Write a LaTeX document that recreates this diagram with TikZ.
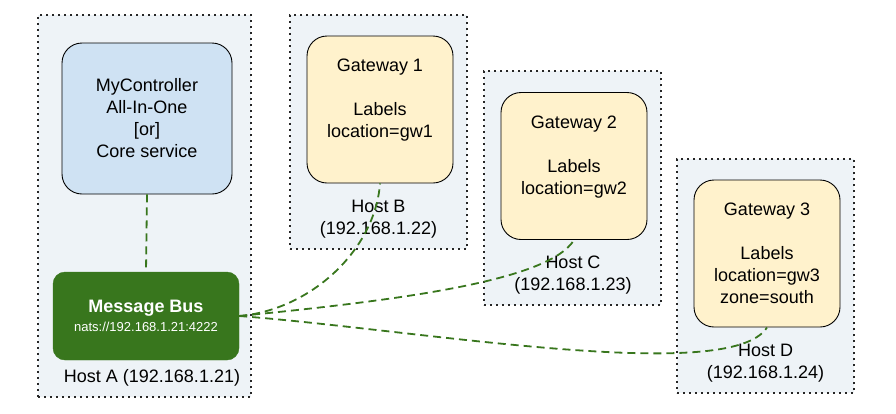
\documentclass[tikz,border=0pt]{standalone}
\usepackage{fontspec}
\setmainfont{Liberation Sans}

\definecolor{hostfill}{HTML}{EEF3F7}
\definecolor{ctrlfill}{HTML}{CFE2F3}
\definecolor{gwfill}{HTML}{FFF2CC}
\definecolor{busgreen}{HTML}{38761D}

\begin{document}
\begin{tikzpicture}[x=1pt, y=-1pt,
  every node/.style={font=\fontsize{18}{22}\selectfont, align=center},
  host/.style={draw=black!85, fill=hostfill, line width=1.9pt, dash pattern=on 1.9pt off 4.1pt, inner sep=0pt},
  gw/.style={draw=black, fill=gwfill, rounded corners=20pt, line width=0.9pt, minimum width=146pt, minimum height=147pt},
  link/.style={draw=busgreen, line width=1.8pt, dash pattern=on 8pt off 5pt}]
  \useasboundingbox (0,0) rectangle (896,413);

  % host boxes
  \node[host, minimum width=213pt, minimum height=382pt] (hostA) at (144.5,206) {}; % left, tall
  \node[host, minimum width=177pt, minimum height=234pt] (hostB) at (378.5,132) {};
  \node[host, minimum width=177pt, minimum height=234pt] (hostC) at (572.5,188) {};
  \node[host, minimum width=177pt, minimum height=234pt] (hostD) at (765.5,276) {};

  % host labels
  \node (labA) at (152,378) {Host A (192.168.1.21)};
  \node (labB) at (378.5,219) {Host B\\(192.168.1.22)};
  \node (labC) at (573,275.5) {Host C\\(192.168.1.23)};
  \node (labD) at (765.5,363.5) {Host D\\(192.168.1.24)};

  % services
  \node[draw=black, fill=ctrlfill, rounded corners=20pt, line width=0.9pt, minimum width=170pt, minimum height=151pt] (ctrl) at (147,118.5)
    {MyController\\All-In-One\\{[}or{]}\\Core service};
  \node[draw=busgreen, fill=busgreen, text=white, rounded corners=12pt, minimum width=186pt, minimum height=88pt] (bus) at (146,316)
    {\bfseries Message Bus\\[-3pt]{\fontsize{13}{15}\selectfont nats://192.168.1.21:4222}};
  \node[gw] (gw1) at (380,109.5) {Gateway 1\\[22pt]Labels\\location=gw1\\\mbox{}};
  \node[gw] (gw2) at (574,166) {Gateway 2\\[22pt]Labels\\location=gw2\\\mbox{}};
  \node[gw] (gw3) at (767,253.5) {Gateway 3\\[22pt]Labels\\location=gw3\\zone=south};

  % links
  \draw[link] (ctrl.south) -- (bus.north);
  \draw[link] (bus.east) .. controls +(71,-6) and +(-5,67) .. (gw1.south);
  \draw[link] (bus.east) .. controls +(161,-16) and +(-25,41) .. (gw2.south);
  \draw[link] (bus.east) .. controls +(181,14) and +(-37,58) .. (gw3.south);
\end{tikzpicture}
\end{document}
